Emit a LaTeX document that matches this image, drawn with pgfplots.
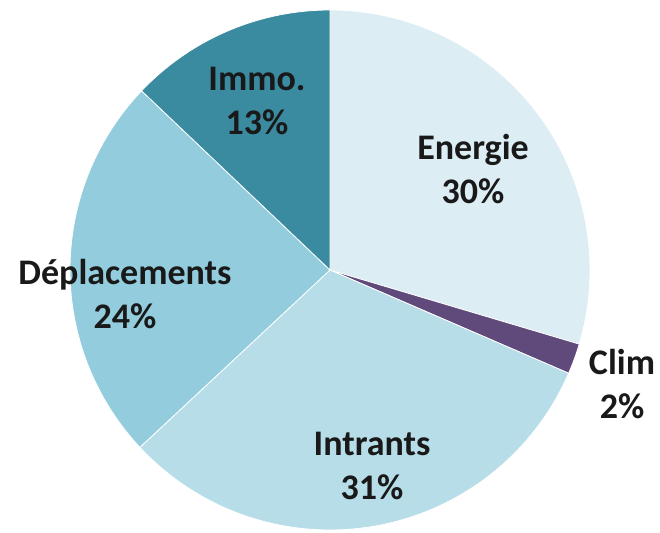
\documentclass[border=0pt]{standalone}
\usepackage{pgfplots}
\pgfplotsset{compat=1.18}
\usepackage{pgfplotstable}
\usepackage{fontspec}
\setmainfont{Carlito}
\definecolor{cEnergie}{HTML}{DCEDF4}
\definecolor{cClim}{HTML}{5F4A7B}
\definecolor{cIntrants}{HTML}{B7DDE8}
\definecolor{cDepl}{HTML}{93CDDD}
\definecolor{cImmo}{HTML}{3A8AA0}
% shares (percent), clockwise from 12 o'clock
\pgfplotstableread{
name pct
Energie 29.6
Clim 1.9
Intrants 31.55
Deplacements 24.05
Immo 12.9
}\piedata
\pgfplotstablegetelem{0}{pct}\of\piedata \let\pA\pgfplotsretval
\pgfplotstablegetelem{1}{pct}\of\piedata \let\pB\pgfplotsretval
\pgfplotstablegetelem{2}{pct}\of\piedata \let\pC\pgfplotsretval
\pgfplotstablegetelem{3}{pct}\of\piedata \let\pD\pgfplotsretval
\pgfplotstablegetelem{4}{pct}\of\piedata \let\pE\pgfplotsretval
\begin{document}
\begin{tikzpicture}
\begin{axis}[x=0.75pt,y=0.75pt,xmin=0,xmax=660,ymin=0,ymax=532,
  hide axis, clip=false, scale only axis]
\coordinate (ll) at (axis cs:0,0);
\coordinate (ur) at (axis cs:660,532);
\def\R{260}
\pgfplotsset{slice/.style={draw=white,line width=0.6pt,samples=120,no markers}}
\addplot[slice,fill=cEnergie,domain={90-3.6*(\pA)}:{90}]
  ({330+\R*cos(x)},{262+\R*sin(x)}) -- (axis cs:330,262) -- cycle;
\addplot[slice,fill=cClim,domain={90-3.6*(\pA+\pB)}:{90-3.6*(\pA)}]
  ({330+\R*cos(x)},{262+\R*sin(x)}) -- (axis cs:330,262) -- cycle;
\addplot[slice,fill=cIntrants,domain={90-3.6*(\pA+\pB+\pC)}:{90-3.6*(\pA+\pB)}]
  ({330+\R*cos(x)},{262+\R*sin(x)}) -- (axis cs:330,262) -- cycle;
\addplot[slice,fill=cDepl,domain={90-3.6*(\pA+\pB+\pC+\pD)}:{90-3.6*(\pA+\pB+\pC)}]
  ({330+\R*cos(x)},{262+\R*sin(x)}) -- (axis cs:330,262) -- cycle;
\addplot[slice,fill=cImmo,domain={90-3.6*(\pA+\pB+\pC+\pD+\pE)}:{90-3.6*(\pA+\pB+\pC+\pD)}]
  ({330+\R*cos(x)},{262+\R*sin(x)}) -- (axis cs:330,262) -- cycle;
\tikzset{lab/.style={font=\fontsize{27}{33.5}\selectfont\bfseries,align=center,text=black!90,inner sep=0pt}}
\node[lab] at (axis cs:473,363) {Energie\\30\%};
\node[lab] at (axis cs:622,148) {Clim\\2\%};
\node[lab] at (axis cs:372,66) {Intrants\\31\%};
\node[lab] at (axis cs:125,238) {Déplacements\\24\%};
\node[lab] at (axis cs:257,431) {Immo.\\13\%};
\end{axis}
\pgfresetboundingbox
\path (ll) rectangle (ur);
\end{tikzpicture}
\end{document}
